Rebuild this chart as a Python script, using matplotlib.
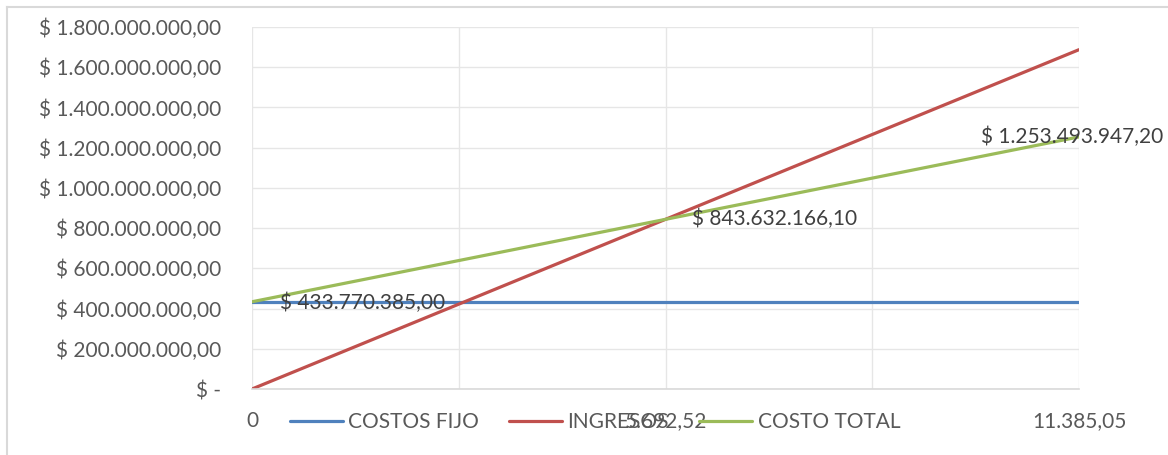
import matplotlib.pyplot as plt
from matplotlib.lines import Line2D

# unidades (eje x)
unidades = [0, 5692.52, 11385.05]
unidades_txt = ["0", "5.692,52", "11.385,05"]

# series
costos_fijo = [433770385.00, 433770385.00, 433770385.00]
ingresos = [0, 843632166.10, 1687264332.20]
costo_total = [433770385.00, 843632166.10, 1253493947.20]

y_ticks = [0, 200e6, 400e6, 600e6, 800e6, 1000e6, 1200e6, 1400e6, 1600e6, 1800e6]


def pesos(v):
    if v == 0:
        return "$ -"
    s = f"{v:,.2f}".replace(",", "X").replace(".", ",").replace("X", ".")
    return "$ " + s


plt.rcParams['font.family'] = ['Lato', 'DejaVu Sans']
gris = '#595959'
fs = 15

fig = plt.figure(figsize=(11.68, 4.55), dpi=100)
ax = fig.add_axes([252/1168, 1-389/455, (1079-252)/1168, (389-27)/455])

ax.plot(unidades, costos_fijo, color='#4F81BD', lw=2.3, label='COSTOS FIJO', solid_capstyle='round')
ax.plot(unidades, ingresos, color='#C0504D', lw=2.3, label='INGRESOS', solid_capstyle='round')
ax.plot(unidades, costo_total, color='#9BBB59', lw=2.3, label='COSTO TOTAL', solid_capstyle='round')

ax.set_xlim(unidades[0], unidades[-1])
ax.set_ylim(y_ticks[0], y_ticks[-1])
ax.set_yticks(y_ticks)
ax.set_yticklabels([pesos(v) for v in y_ticks], fontsize=fs, color=gris)

# rejilla vertical cada cuarto del rango, etiquetas solo en los puntos
paso = unidades[-1] / 4
ax.set_xticks([paso * i for i in range(5)])
ax.set_xticklabels([unidades_txt[0], "", unidades_txt[1], "", unidades_txt[2]], fontsize=fs, color=gris)
ax.tick_params(axis='both', length=0)
ax.tick_params(axis='x', pad=16)
ax.tick_params(axis='y', pad=22)

ax.grid(True, axis='both', color='#E6E6E6', lw=1)
ax.set_axisbelow(True)
for s in ['top', 'right', 'left']:
    ax.spines[s].set_visible(False)
ax.spines['bottom'].set_color('#D9D9D9')
ax.spines['bottom'].set_linewidth(1.2)

# etiquetas de datos
ax.annotate(pesos(costo_total[0]), (unidades[0], costo_total[0]), xytext=(28, -1),
            textcoords='offset pixels', fontsize=fs, color='#404040', va='center', ha='left')
ax.annotate(pesos(costo_total[1]), (unidades[1], costo_total[1]), xytext=(27, 0),
            textcoords='offset pixels', fontsize=fs, color='#404040', va='center', ha='left')
ax.annotate(pesos(costo_total[2]), (unidades[2], costo_total[2]), xytext=(-98, 0),
            textcoords='offset pixels', fontsize=fs, color='#404040', va='center', ha='left',
            annotation_clip=False)

leg = fig.legend(loc='center', bbox_to_anchor=(595/1168, 1-422/455), ncol=3, frameon=False,
                 fontsize=fs, handlelength=2.55, handletextpad=0.25, columnspacing=1.45)
for t in leg.get_texts():
    t.set_color(gris)

# marco exterior (solo arriba e izquierda visibles)
fig.add_artist(Line2D([7/1168, 1], [1-7/455, 1-7/455], color='#D9D9D9', lw=1.5))
fig.add_artist(Line2D([7/1168, 7/1168], [0, 1-7/455], color='#D9D9D9', lw=1.5))

fig.savefig('out.png', dpi=100)
